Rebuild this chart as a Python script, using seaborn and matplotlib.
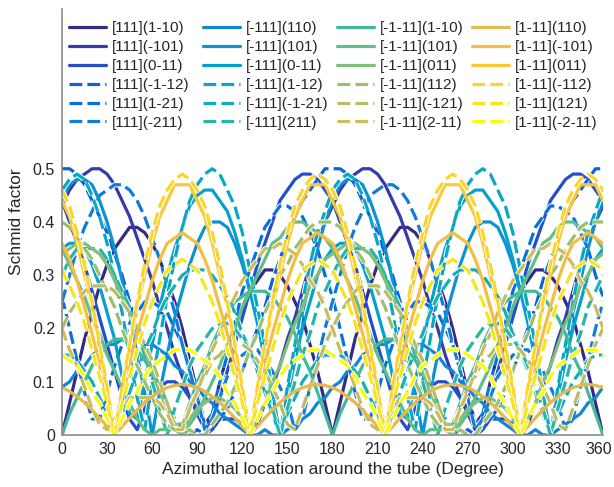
import pandas as pd
import seaborn as sns
import matplotlib.pyplot as plt
import matplotlib.patheffects as pe
from matplotlib.colors import LinearSegmentedColormap
from matplotlib.lines import Line2D
from matplotlib.transforms import ScaledTranslation

# Azimuthal location (degree), one reading every 5 degrees
angle = list(range(0, 361, 5))

# Schmid factors, plane [111]
sf_111_1m10 = [0.00, 0.06, 0.12, 0.18, 0.23, 0.28, 0.32, 0.35, 0.37, 0.39, 0.39, 0.38, 0.36, 0.33, 0.29, 0.25, 0.20, 0.14,
               0.08, 0.02, 0.04, 0.10, 0.15, 0.20, 0.24, 0.27, 0.29, 0.31, 0.31, 0.30, 0.28, 0.25, 0.22, 0.17, 0.12, 0.06,
               0.00, 0.06, 0.12, 0.18, 0.23, 0.28, 0.32, 0.35, 0.37, 0.39, 0.39, 0.38, 0.36, 0.33, 0.29, 0.25, 0.20, 0.14,
               0.08, 0.02, 0.04, 0.10, 0.15, 0.20, 0.24, 0.27, 0.29, 0.31, 0.31, 0.30, 0.28, 0.25, 0.22, 0.17, 0.12, 0.06,
               0.00]
sf_111_m101 = [0.43, 0.46, 0.48, 0.49, 0.50, 0.50, 0.49, 0.47, 0.44, 0.41, 0.37, 0.33, 0.29, 0.24, 0.20, 0.15, 0.11, 0.07,
               0.04, 0.01, 0.01, 0.03, 0.03, 0.03, 0.02, 0.00, 0.02, 0.06, 0.09, 0.13, 0.18, 0.22, 0.27, 0.32, 0.36, 0.40,
               0.43, 0.46, 0.48, 0.49, 0.50, 0.50, 0.49, 0.47, 0.44, 0.41, 0.37, 0.33, 0.29, 0.24, 0.20, 0.15, 0.11, 0.07,
               0.04, 0.01, 0.01, 0.03, 0.03, 0.03, 0.02, 0.00, 0.02, 0.06, 0.09, 0.13, 0.18, 0.22, 0.27, 0.32, 0.36, 0.40,
               0.43]
sf_111_0m11 = [0.44, 0.40, 0.36, 0.32, 0.27, 0.22, 0.17, 0.12, 0.07, 0.03, 0.01, 0.05, 0.07, 0.09, 0.10, 0.10, 0.09, 0.07,
               0.05, 0.01, 0.03, 0.07, 0.12, 0.17, 0.22, 0.27, 0.32, 0.36, 0.40, 0.44, 0.46, 0.48, 0.49, 0.49, 0.48, 0.46,
               0.44, 0.40, 0.36, 0.32, 0.27, 0.22, 0.17, 0.12, 0.07, 0.03, 0.01, 0.05, 0.07, 0.09, 0.10, 0.10, 0.09, 0.07,
               0.05, 0.01, 0.03, 0.07, 0.12, 0.17, 0.22, 0.27, 0.32, 0.36, 0.40, 0.44, 0.46, 0.48, 0.49, 0.49, 0.48, 0.46,
               0.44]
sf_111_m1m12 = [0.50, 0.50, 0.49, 0.47, 0.44, 0.41, 0.38, 0.34, 0.30, 0.25, 0.21, 0.16, 0.12, 0.09, 0.06, 0.03, 0.01, 0.00,
                0.01, 0.00, 0.01, 0.03, 0.05, 0.08, 0.12, 0.16, 0.20, 0.24, 0.29, 0.33, 0.37, 0.41, 0.44, 0.46, 0.48, 0.50,
                0.50, 0.50, 0.49, 0.47, 0.44, 0.41, 0.38, 0.34, 0.30, 0.25, 0.21, 0.16, 0.12, 0.09, 0.06, 0.03, 0.01, 0.00,
                0.01, 0.00, 0.01, 0.03, 0.05, 0.08, 0.12, 0.16, 0.20, 0.24, 0.29, 0.33, 0.37, 0.41, 0.44, 0.46, 0.48, 0.50,
                0.50]
sf_111_1m21 = [0.26, 0.20, 0.14, 0.08, 0.03, 0.03, 0.08, 0.13, 0.17, 0.21, 0.23, 0.25, 0.25, 0.24, 0.23, 0.20, 0.17, 0.12,
               0.07, 0.02, 0.04, 0.10, 0.15, 0.21, 0.27, 0.31, 0.35, 0.39, 0.41, 0.43, 0.43, 0.42, 0.41, 0.38, 0.35, 0.30,
               0.26, 0.20, 0.14, 0.08, 0.03, 0.03, 0.08, 0.13, 0.17, 0.21, 0.23, 0.25, 0.25, 0.24, 0.23, 0.20, 0.17, 0.12,
               0.07, 0.02, 0.04, 0.10, 0.15, 0.21, 0.27, 0.31, 0.35, 0.39, 0.41, 0.43, 0.43, 0.42, 0.41, 0.38, 0.35, 0.30,
               0.26]
sf_111_m211 = [0.25, 0.30, 0.35, 0.39, 0.42, 0.45, 0.46, 0.47, 0.47, 0.46, 0.44, 0.41, 0.37, 0.33, 0.28, 0.23, 0.17, 0.12,
               0.07, 0.01, 0.03, 0.07, 0.11, 0.13, 0.15, 0.16, 0.16, 0.14, 0.12, 0.09, 0.06, 0.01, 0.03, 0.09, 0.14, 0.20,
               0.25, 0.30, 0.35, 0.39, 0.42, 0.45, 0.46, 0.47, 0.47, 0.46, 0.44, 0.41, 0.37, 0.33, 0.28, 0.23, 0.17, 0.12,
               0.07, 0.01, 0.03, 0.07, 0.11, 0.13, 0.15, 0.16, 0.16, 0.14, 0.12, 0.09, 0.06, 0.01, 0.03, 0.09, 0.14, 0.20,
               0.25]

# plane [-111]
sf_m111_110 = [0.09, 0.10, 0.12, 0.13, 0.15, 0.16, 0.17, 0.17, 0.18, 0.18, 0.18, 0.17, 0.17, 0.16, 0.15, 0.13, 0.12, 0.10,
               0.09, 0.07, 0.06, 0.04, 0.03, 0.02, 0.01, 0.00, 0.00, 0.01, 0.00, 0.00, 0.01, 0.02, 0.03, 0.04, 0.06, 0.07,
               0.09, 0.10, 0.12, 0.13, 0.15, 0.16, 0.17, 0.17, 0.18, 0.18, 0.18, 0.17, 0.17, 0.16, 0.15, 0.13, 0.12, 0.10,
               0.09, 0.07, 0.06, 0.04, 0.03, 0.02, 0.01, 0.00, 0.00, 0.01, 0.00, 0.00, 0.01, 0.02, 0.03, 0.04, 0.06, 0.07,
               0.09]
sf_m111_101 = [0.44, 0.47, 0.48, 0.48, 0.47, 0.44, 0.40, 0.35, 0.29, 0.23, 0.15, 0.08, 0.00, 0.08, 0.15, 0.22, 0.27, 0.32,
               0.36, 0.39, 0.40, 0.40, 0.39, 0.36, 0.32, 0.27, 0.22, 0.15, 0.08, 0.00, 0.08, 0.15, 0.23, 0.29, 0.35, 0.40,
               0.44, 0.47, 0.48, 0.48, 0.47, 0.44, 0.40, 0.35, 0.29, 0.23, 0.15, 0.08, 0.00, 0.08, 0.15, 0.22, 0.27, 0.32,
               0.36, 0.39, 0.40, 0.40, 0.39, 0.36, 0.32, 0.27, 0.22, 0.15, 0.08, 0.00, 0.08, 0.15, 0.23, 0.29, 0.35, 0.40,
               0.44]
sf_m111_0m11 = [0.35, 0.36, 0.36, 0.35, 0.32, 0.28, 0.23, 0.18, 0.11, 0.04, 0.03, 0.10, 0.17, 0.24, 0.30, 0.35, 0.39, 0.43,
                0.45, 0.46, 0.46, 0.44, 0.42, 0.38, 0.33, 0.27, 0.21, 0.14, 0.07, 0.00, 0.07, 0.14, 0.20, 0.25, 0.30, 0.33,
                0.35, 0.36, 0.36, 0.35, 0.32, 0.28, 0.23, 0.18, 0.11, 0.04, 0.03, 0.10, 0.17, 0.24, 0.30, 0.35, 0.39, 0.43,
                0.45, 0.46, 0.46, 0.44, 0.42, 0.38, 0.33, 0.27, 0.21, 0.14, 0.07, 0.00, 0.07, 0.14, 0.20, 0.25, 0.30, 0.33,
                0.35]
sf_m111_1m12 = [0.46, 0.48, 0.49, 0.48, 0.45, 0.41, 0.36, 0.30, 0.23, 0.15, 0.07, 0.01, 0.10, 0.18, 0.26, 0.33, 0.39, 0.44,
                0.47, 0.49, 0.50, 0.49, 0.46, 0.43, 0.38, 0.31, 0.24, 0.17, 0.08, 0.00, 0.09, 0.17, 0.25, 0.32, 0.38, 0.42,
                0.46, 0.48, 0.49, 0.48, 0.45, 0.41, 0.36, 0.30, 0.23, 0.15, 0.07, 0.01, 0.10, 0.18, 0.26, 0.33, 0.39, 0.44,
                0.47, 0.49, 0.50, 0.49, 0.46, 0.43, 0.38, 0.31, 0.24, 0.17, 0.08, 0.00, 0.09, 0.17, 0.25, 0.32, 0.38, 0.42,
                0.46]
sf_m111_m1m21 = [0.15, 0.15, 0.14, 0.12, 0.10, 0.07, 0.04, 0.00, 0.04, 0.08, 0.12, 0.16, 0.19, 0.23, 0.26, 0.28, 0.30, 0.31,
                 0.31, 0.31, 0.30, 0.28, 0.26, 0.23, 0.19, 0.16, 0.12, 0.08, 0.04, 0.00, 0.04, 0.07, 0.10, 0.12, 0.14, 0.15,
                 0.15, 0.15, 0.14, 0.12, 0.10, 0.07, 0.04, 0.00, 0.04, 0.08, 0.12, 0.16, 0.19, 0.23, 0.26, 0.28, 0.30, 0.31,
                 0.31, 0.31, 0.30, 0.28, 0.26, 0.23, 0.19, 0.16, 0.12, 0.08, 0.04, 0.00, 0.04, 0.07, 0.10, 0.12, 0.14, 0.15,
                 0.15]
sf_m111_211 = [0.30, 0.33, 0.35, 0.35, 0.35, 0.35, 0.33, 0.30, 0.27, 0.24, 0.19, 0.15, 0.10, 0.05, 0.00, 0.05, 0.09, 0.13,
               0.16, 0.18, 0.20, 0.21, 0.21, 0.20, 0.18, 0.16, 0.13, 0.09, 0.05, 0.00, 0.05, 0.10, 0.15, 0.19, 0.24, 0.27,
               0.30, 0.33, 0.35, 0.35, 0.35, 0.35, 0.33, 0.30, 0.27, 0.24, 0.19, 0.15, 0.10, 0.05, 0.00, 0.05, 0.09, 0.13,
               0.16, 0.18, 0.20, 0.21, 0.21, 0.20, 0.18, 0.16, 0.13, 0.09, 0.05, 0.00, 0.05, 0.10, 0.15, 0.19, 0.24, 0.27,
               0.30]

# plane [-1-11]
sf_m1m11_1m10 = [0.00, 0.04, 0.07, 0.10, 0.13, 0.15, 0.17, 0.18, 0.18, 0.17, 0.16, 0.14, 0.12, 0.09, 0.06, 0.02, 0.02, 0.06,
                 0.10, 0.13, 0.17, 0.20, 0.23, 0.25, 0.26, 0.27, 0.27, 0.27, 0.26, 0.24, 0.22, 0.19, 0.15, 0.12, 0.08, 0.04,
                 0.00, 0.04, 0.07, 0.10, 0.13, 0.15, 0.17, 0.18, 0.18, 0.17, 0.16, 0.14, 0.12, 0.09, 0.06, 0.02, 0.02, 0.06,
                 0.10, 0.13, 0.17, 0.20, 0.23, 0.25, 0.26, 0.27, 0.27, 0.27, 0.26, 0.24, 0.22, 0.19, 0.15, 0.12, 0.08, 0.04,
                 0.00]
sf_m1m11_101 = [0.35, 0.32, 0.29, 0.26, 0.22, 0.19, 0.15, 0.12, 0.09, 0.06, 0.03, 0.01, 0.00, 0.01, 0.01, 0.01, 0.00, 0.02,
                0.04, 0.07, 0.10, 0.13, 0.17, 0.20, 0.24, 0.27, 0.30, 0.33, 0.36, 0.37, 0.39, 0.40, 0.40, 0.39, 0.38, 0.37,
                0.35, 0.32, 0.29, 0.26, 0.22, 0.19, 0.15, 0.12, 0.09, 0.06, 0.03, 0.01, 0.00, 0.01, 0.01, 0.01, 0.00, 0.02,
                0.04, 0.07, 0.10, 0.13, 0.17, 0.20, 0.24, 0.27, 0.30, 0.33, 0.36, 0.37, 0.39, 0.40, 0.40, 0.39, 0.38, 0.37,
                0.35]
sf_m1m11_011 = [0.34, 0.35, 0.36, 0.36, 0.35, 0.34, 0.32, 0.29, 0.26, 0.23, 0.19, 0.16, 0.12, 0.08, 0.05, 0.02, 0.01, 0.03,
                0.05, 0.06, 0.07, 0.07, 0.06, 0.05, 0.03, 0.00, 0.03, 0.06, 0.10, 0.13, 0.17, 0.21, 0.24, 0.28, 0.30, 0.33,
                0.34, 0.35, 0.36, 0.36, 0.35, 0.34, 0.32, 0.29, 0.26, 0.23, 0.19, 0.16, 0.12, 0.08, 0.05, 0.02, 0.01, 0.03,
                0.05, 0.06, 0.07, 0.07, 0.06, 0.05, 0.03, 0.00, 0.03, 0.06, 0.10, 0.13, 0.17, 0.21, 0.24, 0.28, 0.30, 0.33,
                0.34]
sf_m1m11_112 = [0.40, 0.39, 0.37, 0.35, 0.33, 0.30, 0.27, 0.24, 0.20, 0.16, 0.13, 0.10, 0.07, 0.04, 0.02, 0.01, 0.00, 0.01,
                0.00, 0.00, 0.02, 0.04, 0.06, 0.09, 0.12, 0.16, 0.19, 0.23, 0.26, 0.30, 0.32, 0.35, 0.37, 0.39, 0.40, 0.40,
                0.40, 0.39, 0.37, 0.35, 0.33, 0.30, 0.27, 0.24, 0.20, 0.16, 0.13, 0.10, 0.07, 0.04, 0.02, 0.01, 0.00, 0.01,
                0.00, 0.00, 0.02, 0.04, 0.06, 0.09, 0.12, 0.16, 0.19, 0.23, 0.26, 0.30, 0.32, 0.35, 0.37, 0.39, 0.40, 0.40,
                0.40]
sf_m1m11_m121 = [0.20, 0.23, 0.25, 0.27, 0.28, 0.28, 0.28, 0.27, 0.25, 0.23, 0.20, 0.17, 0.14, 0.10, 0.06, 0.02, 0.02, 0.05,
                 0.09, 0.11, 0.14, 0.15, 0.17, 0.17, 0.17, 0.16, 0.14, 0.12, 0.09, 0.06, 0.02, 0.01, 0.05, 0.09, 0.13, 0.17,
                 0.20, 0.23, 0.25, 0.27, 0.28, 0.28, 0.28, 0.27, 0.25, 0.23, 0.20, 0.17, 0.14, 0.10, 0.06, 0.02, 0.02, 0.05,
                 0.09, 0.11, 0.14, 0.15, 0.17, 0.17, 0.17, 0.16, 0.14, 0.12, 0.09, 0.06, 0.02, 0.01, 0.05, 0.09, 0.13, 0.17,
                 0.20]
sf_m1m11_2m11 = [0.20, 0.16, 0.13, 0.09, 0.05, 0.02, 0.01, 0.03, 0.05, 0.07, 0.07, 0.07, 0.07, 0.06, 0.04, 0.01, 0.01, 0.05,
                 0.08, 0.12, 0.16, 0.19, 0.23, 0.26, 0.29, 0.31, 0.33, 0.35, 0.35, 0.36, 0.35, 0.34, 0.32, 0.29, 0.27, 0.24,
                 0.20, 0.16, 0.13, 0.09, 0.05, 0.02, 0.01, 0.03, 0.05, 0.07, 0.07, 0.07, 0.07, 0.06, 0.04, 0.01, 0.01, 0.05,
                 0.08, 0.12, 0.16, 0.19, 0.23, 0.26, 0.29, 0.31, 0.33, 0.35, 0.35, 0.36, 0.35, 0.34, 0.32, 0.29, 0.27, 0.24,
                 0.20]

# plane [1-11]
sf_1m11_110 = [0.089, 0.082, 0.072, 0.061, 0.047, 0.032, 0.016, 0.000, 0.016, 0.032, 0.047, 0.061, 0.072, 0.082, 0.089, 0.093, 0.095, 0.093,
               0.089, 0.082, 0.072, 0.061, 0.047, 0.032, 0.016, 0.000, 0.016, 0.032, 0.047, 0.061, 0.072, 0.082, 0.089, 0.093, 0.095, 0.093,
               0.089, 0.082, 0.072, 0.061, 0.047, 0.032, 0.016, 0.000, 0.016, 0.032, 0.047, 0.061, 0.072, 0.082, 0.089, 0.093, 0.095, 0.093,
               0.089, 0.082, 0.072, 0.061, 0.047, 0.032, 0.016, 0.000, 0.016, 0.032, 0.047, 0.061, 0.072, 0.082, 0.089, 0.093, 0.095, 0.093,
               0.089]
sf_1m11_m101 = [0.36, 0.33, 0.29, 0.24, 0.19, 0.13, 0.07, 0.00, 0.07, 0.13, 0.19, 0.24, 0.29, 0.33, 0.36, 0.37, 0.38, 0.37,
                0.36, 0.33, 0.29, 0.24, 0.19, 0.13, 0.07, 0.00, 0.07, 0.13, 0.19, 0.24, 0.29, 0.33, 0.36, 0.37, 0.38, 0.37,
                0.36, 0.33, 0.29, 0.24, 0.19, 0.13, 0.07, 0.00, 0.07, 0.13, 0.19, 0.24, 0.29, 0.33, 0.36, 0.37, 0.38, 0.37,
                0.36, 0.33, 0.29, 0.24, 0.19, 0.13, 0.07, 0.00, 0.07, 0.13, 0.19, 0.24, 0.29, 0.33, 0.36, 0.37, 0.38, 0.37,
                0.36]
sf_1m11_011 = [0.44, 0.41, 0.36, 0.30, 0.24, 0.16, 0.08, 0.00, 0.08, 0.16, 0.24, 0.30, 0.36, 0.41, 0.44, 0.47, 0.47, 0.47,
               0.44, 0.41, 0.36, 0.30, 0.24, 0.16, 0.08, 0.00, 0.08, 0.16, 0.24, 0.30, 0.36, 0.41, 0.44, 0.47, 0.47, 0.47,
               0.44, 0.41, 0.36, 0.30, 0.24, 0.16, 0.08, 0.00, 0.08, 0.16, 0.24, 0.30, 0.36, 0.41, 0.44, 0.47, 0.47, 0.47,
               0.44, 0.41, 0.36, 0.30, 0.24, 0.16, 0.08, 0.00, 0.08, 0.16, 0.24, 0.30, 0.36, 0.41, 0.44, 0.47, 0.47, 0.47,
               0.44]
sf_1m11_m112 = [0.46, 0.43, 0.38, 0.32, 0.25, 0.17, 0.09, 0.00, 0.09, 0.17, 0.25, 0.32, 0.38, 0.43, 0.46, 0.48, 0.49, 0.48,
                0.46, 0.43, 0.38, 0.32, 0.25, 0.17, 0.09, 0.00, 0.09, 0.17, 0.25, 0.32, 0.38, 0.43, 0.46, 0.48, 0.49, 0.48,
                0.46, 0.43, 0.38, 0.32, 0.25, 0.17, 0.09, 0.00, 0.09, 0.17, 0.25, 0.32, 0.38, 0.43, 0.46, 0.48, 0.49, 0.48,
                0.46, 0.43, 0.38, 0.32, 0.25, 0.17, 0.09, 0.00, 0.09, 0.17, 0.25, 0.32, 0.38, 0.43, 0.46, 0.48, 0.49, 0.48,
                0.46]
sf_1m11_121 = [0.31, 0.28, 0.25, 0.21, 0.16, 0.11, 0.06, 0.00, 0.06, 0.11, 0.16, 0.21, 0.25, 0.28, 0.31, 0.32, 0.33, 0.32,
               0.31, 0.28, 0.25, 0.21, 0.16, 0.11, 0.06, 0.00, 0.06, 0.11, 0.16, 0.21, 0.25, 0.28, 0.31, 0.32, 0.33, 0.32,
               0.31, 0.28, 0.25, 0.21, 0.16, 0.11, 0.06, 0.00, 0.06, 0.11, 0.16, 0.21, 0.25, 0.28, 0.31, 0.32, 0.33, 0.32,
               0.31, 0.28, 0.25, 0.21, 0.16, 0.11, 0.06, 0.00, 0.06, 0.11, 0.16, 0.21, 0.25, 0.28, 0.31, 0.32, 0.33, 0.32,
               0.31]
sf_1m11_m2m11 = [0.15, 0.14, 0.13, 0.11, 0.08, 0.06, 0.03, 0.00, 0.03, 0.06, 0.08, 0.11, 0.13, 0.14, 0.15, 0.16, 0.16, 0.16,
                 0.15, 0.14, 0.13, 0.11, 0.08, 0.06, 0.03, 0.00, 0.03, 0.06, 0.08, 0.11, 0.13, 0.14, 0.15, 0.16, 0.16, 0.16,
                 0.15, 0.14, 0.13, 0.11, 0.08, 0.06, 0.03, 0.00, 0.03, 0.06, 0.08, 0.11, 0.13, 0.14, 0.15, 0.16, 0.16, 0.16,
                 0.15, 0.14, 0.13, 0.11, 0.08, 0.06, 0.03, 0.00, 0.03, 0.06, 0.08, 0.11, 0.13, 0.14, 0.15, 0.16, 0.16, 0.16,
                 0.15]

systems = ['[111](1-10)', '[111](-101)', '[111](0-11)', '[111](-1-12)', '[111](1-21)', '[111](-211)',
           '[-111](110)', '[-111](101)', '[-111](0-11)', '[-111](1-12)', '[-111](-1-21)', '[-111](211)',
           '[-1-11](1-10)', '[-1-11](101)', '[-1-11](011)', '[-1-11](112)', '[-1-11](-121)', '[-1-11](2-11)',
           '[1-11](110)', '[1-11](-101)', '[1-11](011)', '[1-11](-112)', '[1-11](121)', '[1-11](-2-11)']
series = [sf_111_1m10, sf_111_m101, sf_111_0m11, sf_111_m1m12, sf_111_1m21, sf_111_m211,
          sf_m111_110, sf_m111_101, sf_m111_0m11, sf_m111_1m12, sf_m111_m1m21, sf_m111_211,
          sf_m1m11_1m10, sf_m1m11_101, sf_m1m11_011, sf_m1m11_112, sf_m1m11_m121, sf_m1m11_2m11,
          sf_1m11_110, sf_1m11_m101, sf_1m11_011, sf_1m11_m112, sf_1m11_121, sf_1m11_m2m11]
# first three of each plane are slip systems, last three are twins
modes = (['slip'] * 3 + ['twin'] * 3) * 4

frames = []
for name, vals, mode in zip(systems, series, modes):
    frames.append(pd.DataFrame({'angle': angle, 'sf': vals, 'system': name, 'mode': mode}))
df = pd.concat(frames, ignore_index=True)

# parula-like colormap (MATLAB default)
parula_pts = [(0.2081, 0.1663, 0.5292), (0.2081, 0.2386, 0.6771), (0.1253, 0.3242, 0.8303), (0.0060, 0.4086, 0.8828),
              (0.0498, 0.4586, 0.8641), (0.0779, 0.5040, 0.8384), (0.0641, 0.5570, 0.8240), (0.0265, 0.6137, 0.8135),
              (0.0228, 0.6535, 0.7768), (0.0590, 0.6838, 0.7254), (0.1453, 0.7098, 0.6646), (0.2586, 0.7317, 0.5954),
              (0.3953, 0.7459, 0.5244), (0.5300, 0.7491, 0.4661), (0.6473, 0.7456, 0.4188), (0.7525, 0.7384, 0.3768),
              (0.8507, 0.7299, 0.3360), (0.9450, 0.7261, 0.2886), (0.9990, 0.7653, 0.2164), (0.9789, 0.8271, 0.1633),
              (0.9589, 0.8949, 0.1132), (0.9763, 0.9831, 0.0538)]
parula = LinearSegmentedColormap.from_list('parula', parula_pts)
colors = [parula(i / 23) for i in range(24)]

sns.set_style('white')
plt.rcParams['font.family'] = ['Liberation Sans', 'DejaVu Sans']

LW = 2.3
DASH = (4, 1.6)
halo = [pe.Stroke(linewidth=LW + 1.4, foreground='white'), pe.Normal()]

fig = plt.figure(figsize=(6.14, 4.87), dpi=100)
ax = fig.add_axes([0.101, 0.1068, 0.8811, 0.8747])

sns.lineplot(data=df, x='angle', y='sf', hue='system', hue_order=systems, style='mode',
             style_order=['slip', 'twin'], dashes={'slip': '', 'twin': DASH}, palette=colors,
             linewidth=LW, estimator=None, legend=False, ax=ax)

for i, line in enumerate(ax.lines):
    if modes[i] == 'twin':
        line.set_path_effects(halo)

ax.set_xlim(0, 360)
ax.set_ylim(0, 0.8)
ax.set_xticks(range(0, 361, 30))
ax.set_yticks([0, 0.1, 0.2, 0.3, 0.4, 0.5])
ax.set_yticklabels(['0', '0.1', '0.2', '0.3', '0.4', '0.5'])
ax.tick_params(length=0, labelsize=11.5, labelcolor='#262626', pad=5)
# keep the last x label inside the figure
last = ax.get_xticklabels()[-1]
last.set_transform(last.get_transform() + ScaledTranslation(-3 / 72, 0, fig.dpi_scale_trans))
for side in ['top', 'right']:
    ax.spines[side].set_visible(False)
for side in ['left', 'bottom']:
    ax.spines[side].set_color('#8c8c8c')
    ax.spines[side].set_linewidth(1.2)
ax.set_xlabel('Azimuthal location around the tube (Degree)', fontsize=12.5, color='#262626', labelpad=4)
ax.set_ylabel('Schmid factor', fontsize=12.5, color='#262626', labelpad=6)

# legend: 4 columns of 6 entries, one per slip plane
col_x = [0.013, 0.2606, 0.5083, 0.7579]
for c in range(4):
    handles = []
    for j in range(6):
        k = c * 6 + j
        h = Line2D([], [], color=colors[k], lw=LW,
                   linestyle='-' if modes[k] == 'slip' else (0, DASH))
        if modes[k] == 'twin':
            h.set_path_effects(halo)
        handles.append(h)
    leg = ax.legend(handles, systems[c * 6:(c + 1) * 6], loc='upper left',
                    bbox_to_anchor=(col_x[c], 0.971), frameon=False, fontsize=11,
                    borderpad=0, borderaxespad=0, handlelength=2.4, handletextpad=0.4,
                    labelspacing=0.32)
    for t in leg.get_texts():
        t.set_color('#262626')
    if c < 3:
        ax.add_artist(leg)

fig.savefig('out.png', dpi=100)
